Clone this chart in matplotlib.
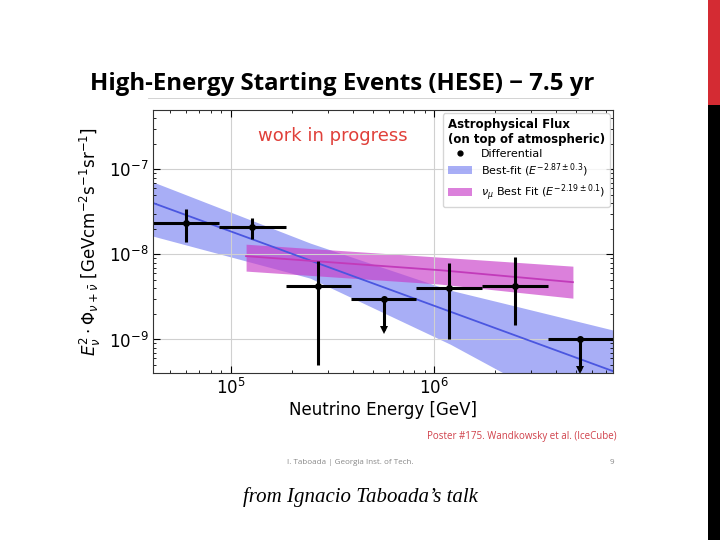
import numpy as np
import matplotlib.pyplot as plt
from matplotlib.patches import Patch, Rectangle
from matplotlib.lines import Line2D

# bin edges [GeV] and differential flux points
bin_edges = [4.16e4, 8.73e4, 1.86e5, 3.91e5, 8.17e5, 1.72e6, 3.63e6, 7.59e6]
flux = [2.33e-8, 2.11e-8, 4.24e-9, 2.98e-9, 4.05e-9, 4.31e-9, 1.0e-9]
flux_hi = [3.41e-8, 2.65e-8, 8.34e-9, 2.98e-9, 7.9e-9, 9.4e-9, 1.0e-9]
flux_lo = [1.40e-8, 1.54e-8, 4.99e-10, 1.29e-9, 1.01e-9, 1.48e-9, 4.4e-10]
is_limit = [False, False, False, True, False, False, True]

# HESE best fit band
hese_E = [4.16e4, 2.46e5, 1.2e6, 2.2e6, 7.6e6]
hese_up = [7.10e-8, 1.36e-8, 3.80e-9, 2.67e-9, 1.29e-9]
hese_dn = [1.64e-8, 5.26e-9, 8.81e-10, 4.02e-10, 7.9e-11]
hese_line_E = [4.16e4, 7.59e6]
hese_line = [4.02e-8, 4.24e-10]

# numu best fit band
numu_E = [1.19e5, 1.07e6, 4.82e6]
numu_up = [1.32e-8, 9.29e-9, 7.28e-9]
numu_dn = [6.37e-9, 4.48e-9, 3.06e-9]
numu_line = [9.55e-9, 6.53e-9, 4.72e-9]

fig = plt.figure(figsize=(7.2, 5.4), dpi=100)
ax = fig.add_axes([0.2129, 0.3087, 0.6385, 0.4876])

blue_band = (110/255, 120/255, 240/255)
mag_band = (200/255, 60/255, 200/255)

ax.fill_between(hese_E, hese_dn, hese_up, color=blue_band, alpha=0.6, lw=0)
ax.plot(hese_line_E, hese_line, color='#4a56e0', lw=1.3)
ax.fill_between(numu_E, numu_dn, numu_up, color=mag_band, alpha=0.65, lw=0)
ax.plot(numu_E, numu_line, color='#c23aba', lw=1.3)

edges = np.array(bin_edges)
centers = np.sqrt(edges[:-1] * edges[1:])
for i in range(len(flux)):
    xl = centers[i] - edges[i]
    xr = edges[i + 1] - centers[i]
    ax.errorbar(centers[i], flux[i], xerr=[[xl], [xr]],
                yerr=[[flux[i] - flux_lo[i]], [flux_hi[i] - flux[i]]],
                fmt='o', color='black', ms=4, elinewidth=2.2, capsize=0)
    if is_limit[i]:
        ax.plot(centers[i], flux_lo[i], marker='v', color='black', ms=6, mew=0)

ax.set_xscale('log')
ax.set_yscale('log')
ax.set_xlim(4.16e4, 7.59e6)
ax.set_ylim(4.0e-10, 5.0e-7)
ax.grid(True, which='major', color='#d0d0d0', lw=0.8)
ax.tick_params(which='both', direction='in', top=True, right=True, labelsize=12)
ax.tick_params(which='major', length=5)
ax.tick_params(which='minor', length=2.5)
for s in ax.spines.values():
    s.set_color('#333333')

ax.set_xlabel('Neutrino Energy [GeV]', fontsize=12, labelpad=2)
ax.set_ylabel(r'$E_\nu^2 \cdot \Phi_{\nu+\bar{\nu}}$ [GeVcm$^{-2}$s$^{-1}$sr$^{-1}$]',
              fontsize=12, labelpad=4)

ax.text(0.39, 0.90, 'work in progress', transform=ax.transAxes, color='#e0403a',
        fontsize=13, ha='center', va='center')

handles = [Line2D([], [], marker='o', color='black', ls='none', ms=3.5),
           Patch(facecolor=blue_band, alpha=0.6, lw=0),
           Patch(facecolor=mag_band, alpha=0.65, lw=0)]
labels = ['Differential', r'Best-fit ($E^{-2.87\pm0.3}$)',
          r'$\nu_\mu$ Best Fit ($E^{-2.19\pm0.1}$)']
leg = ax.legend(handles, labels, loc='upper right', fontsize=8,
                title='Astrophysical Flux\n(on top of atmospheric)',
                title_fontproperties={'weight': 'bold', 'size': 8.5},
                handlelength=2.2, labelspacing=0.25, borderaxespad=0.3)
leg._legend_box.align = 'left'

# slide decorations
fig.text(90/720, 1 - 84/540, 'High-Energy Starting Events (HESE) \u2212 7.5 yr',
         fontsize=17.3, fontweight='bold', family='Open Sans', va='center', ha='left')
fig.add_artist(Line2D([148/720, 578/720], [1 - 98/540, 1 - 98/540],
                      color='#cccccc', lw=0.6))
fig.text(617/720, 1 - 437/540, 'Poster #175. Wandkowsky et al. (IceCube)',
         fontsize=7, color='#d0404a', ha='right', va='center', family='Open Sans')
fig.text(287/720, 1 - 462/540, 'I. Taboada | Georgia Inst. of Tech.',
         fontsize=5.8, color='#888888', ha='left', va='center', family='Open Sans')
fig.text(614/720, 1 - 462/540, '9', fontsize=5.8, color='#888888',
         ha='right', va='center', family='Open Sans')
fig.text(360/720, 1 - 497/540, 'from Ignacio Taboada\u2019s talk',
         fontsize=15, family='Liberation Serif', style='italic',
         ha='center', va='center')
fig.add_artist(Rectangle((708/720, 1 - 105/540), 12/720, 105/540,
                         transform=fig.transFigure, color='#d42b33', lw=0))
fig.add_artist(Rectangle((708/720, 0), 12/720, 1 - 105/540,
                         transform=fig.transFigure, color='black', lw=0))

fig.savefig('out.png', dpi=100)
